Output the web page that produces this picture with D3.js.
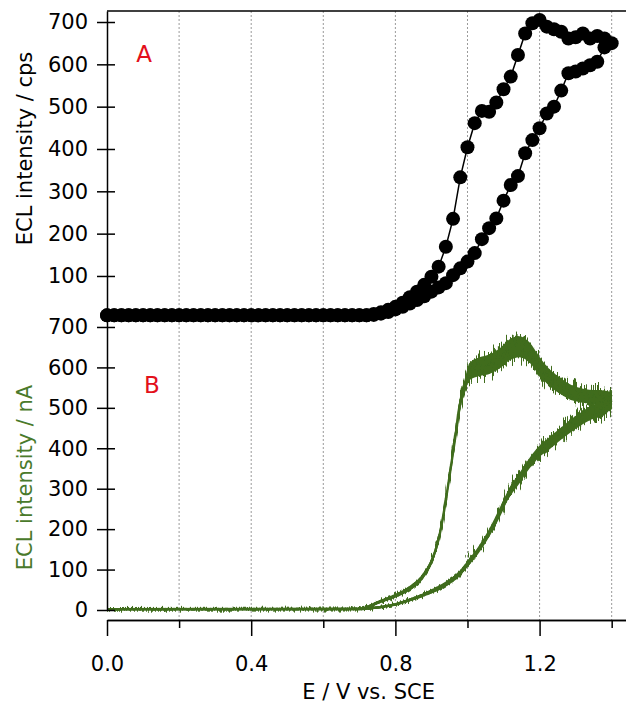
<!DOCTYPE html>
<html>
<head>
<meta charset="utf-8">
<script src="https://cdn.jsdelivr.net/npm/d3@7"></script>
<style>
  body { margin: 0; background: #fff; }
  svg { display: block; }
  text { font-family: "DejaVu Sans", "Lucida Grande", sans-serif; }
</style>
</head>
<body>
<svg id="chart" width="626" height="704"></svg>
<script>
// ---- Panel A: photon-counting ECL (cps), sampled every 20 mV ----
const scanStep = 0.02;
const scanVertex = 1.40;
// forward sweep 0.00 -> 1.40 V
const eclCpsForward = [
  7, 7, 7, 7, 7, 7, 7, 7, 7, 7,
  7, 7, 7, 7, 7, 7, 7, 7, 7, 7,
  7, 7, 7, 7, 7, 7, 7, 7, 7, 7,
  7, 7, 7, 7, 7, 7, 7,
  10, 14, 20, 27, 37, 50, 63, 79, 98,
  122, 169, 235, 333, 404, 461, 490, 488, 510, 541,
  571, 622, 673, 697, 705, 689, 683, 677, 661, 664,
  673, 661, 667, 661, 650
];
// reverse sweep 1.38 -> 0.00 V
const eclCpsReverse = [
  640, 606, 598, 590, 583, 579, 538, 500, 484, 449,
  421, 390, 336, 315, 278, 236, 213, 187, 154, 134,
  118, 102, 83, 73, 63, 52, 43, 35, 27, 21,
  15, 11, 8,
  7, 7, 7, 7, 7, 7, 7, 7, 7, 7,
  7, 7, 7, 7, 7, 7, 7, 7, 7, 7,
  7, 7, 7, 7, 7, 7, 7, 7, 7, 7,
  7, 7, 7, 7, 7, 7, 7
];

// ---- Panel B: PMT current (nA), continuous trace ----
const eclNaForwardE = [0.00, 0.70, 0.73, 0.75, 0.80, 0.84, 0.875, 0.90, 0.92, 0.935,
  0.95, 0.965, 0.978, 0.992, 1.006, 1.033, 1.061, 1.089, 1.116, 1.144,
  1.172, 1.199, 1.227, 1.255, 1.283, 1.310, 1.338, 1.366, 1.40];
const eclNaForwardI = [2, 3, 10, 18, 35, 54, 82, 120, 175, 245,
  330, 420, 505, 552, 590, 602, 608, 622, 643, 651,
  637, 604, 575, 556, 540, 532, 528, 527, 522];
// half-width of the noise band along the forward trace (nA)
const eclNaForwardNoise = [2, 2.5, 3.5, 4, 5, 6, 7, 8, 9, 10,
  11, 12, 15, 18, 21, 23, 24, 25, 26, 26,
  25, 23, 21, 20, 19, 18, 17, 17, 17];

const eclNaReverseE = [1.40, 1.384, 1.338, 1.310, 1.283, 1.255, 1.227, 1.199, 1.172, 1.144,
  1.116, 1.089, 1.061, 1.033, 1.001, 0.978, 0.941, 0.895, 0.85, 0.80,
  0.756, 0.70, 0.00];
const eclNaReverseI = [518, 503, 486, 470, 453, 433, 412, 392, 363, 326,
  290, 240, 192, 152, 115, 90, 65, 44, 28, 14,
  7, 2, 2];
const eclNaReverseNoise = [18, 18, 17, 16, 16, 15, 15, 14, 13, 13,
  12, 12, 10, 9, 8, 7, 6, 5, 4, 3.5,
  3, 2, 2];

// ---- axis ticks and labels ----
const xMajorTicks = [0.0, 0.4, 0.8, 1.2];
const xMinorTicks = [0.2, 0.6, 1.0, 1.4];
const xGridTicks = [0.2, 0.4, 0.6, 0.8, 1.0, 1.2, 1.4];
const yTicksA = [100, 200, 300, 400, 500, 600, 700];
const yTicksB = [0, 100, 200, 300, 400, 500, 600, 700];
const xTitle = "E / V vs. SCE";
const yTitleA = "ECL intensity / cps";
const yTitleB = "ECL intensity / nA";
const panelLabels = ["A", "B"];

const GREEN = "#3f6c1d";
const GREEN_TEXT = "#4a7a2b";
const RED = "#e3101b";

const svg = d3.select("#chart");

const x = d3.scaleLinear().domain([0, 1.44]).range([107, 626.1]);
const yA = d3.scaleLinear().domain([0, 726]).range([318.3, 11]);
const yB = d3.scaleLinear().domain([0, 718]).range([610, 319.7]);
const xAxisY = 620;

// dotted vertical grid through both panels
svg.append("g")
  .selectAll("line")
  .data(xGridTicks)
  .join("line")
  .attr("x1", d => x(d)).attr("x2", d => x(d))
  .attr("y1", yA.range()[1]).attr("y2", xAxisY)
  .attr("stroke", "#9a9a9a")
  .attr("stroke-width", 1)
  .attr("stroke-dasharray", "2,2");

// top frame line
svg.append("line")
  .attr("x1", x.range()[0]).attr("x2", x.range()[1])
  .attr("y1", yA.range()[1]).attr("y2", yA.range()[1])
  .attr("stroke", "#000").attr("stroke-width", 1.5);

// ---- panel B trace ----
const defs = svg.append("defs");
function jitterFilter(id, amount, seed) {
  const f = defs.append("filter").attr("id", id)
    .attr("filterUnits", "userSpaceOnUse")
    .attr("x", 0).attr("y", 280).attr("width", 626).attr("height", 360);
  f.append("feTurbulence").attr("type", "fractalNoise")
    .attr("baseFrequency", "0.8 0.03").attr("numOctaves", 3).attr("seed", seed).attr("result", "n");
  f.append("feColorMatrix").attr("in", "n").attr("type", "matrix")
    .attr("values", "0 0 0 0 0.5  0 2 0 0 -0.5  0 0 0 0 0  0 0 0 0 1").attr("result", "m");
  f.append("feDisplacementMap").attr("in", "SourceGraphic").attr("in2", "m")
    .attr("scale", amount).attr("xChannelSelector", "R").attr("yChannelSelector", "G");
}
jitterFilter("jitterHigh", 16, 3);
jitterFilter("jitterLow", 4, 7);

const splitY = yB(130);
defs.append("clipPath").attr("id", "upperB")
  .append("rect").attr("x", 0).attr("y", 300).attr("width", 626).attr("height", splitY - 300);
defs.append("clipPath").attr("id", "lowerB")
  .append("rect").attr("x", 0).attr("y", splitY).attr("width", 626).attr("height", 630 - splitY);

function branch(es, is, hw) {
  return es.map((e, i) => ({ e, v: is[i], h: hw[i] })).sort((a, b) => a.e - b.e);
}
const fwdB = branch(eclNaForwardE, eclNaForwardI, eclNaForwardNoise);
const revB = branch(eclNaReverseE, eclNaReverseI, eclNaReverseNoise);

const band = d3.area()
  .x(d => x(d.e))
  .y0(d => yB(d.v - d.h))
  .y1(d => yB(d.v + d.h))
  .curve(d3.curveMonotoneX);
const mid = d3.line()
  .x(d => x(d.e)).y(d => yB(d.v))
  .curve(d3.curveMonotoneX);

const gB = svg.append("g");
[fwdB, revB].forEach(br => {
  gB.append("path").attr("d", band(br)).attr("fill", GREEN);
  gB.append("path").attr("d", mid(br)).attr("fill", "none")
    .attr("stroke", GREEN).attr("stroke-width", 2.4);
});
// vertex join at the switching potential
gB.append("line")
  .attr("x1", x(scanVertex) - 1).attr("x2", x(scanVertex) - 1)
  .attr("y1", yB(eclNaForwardI[eclNaForwardI.length - 1] + 22))
  .attr("y2", yB(eclNaReverseI[0] - 22))
  .attr("stroke", GREEN).attr("stroke-width", 2.5);

// jagged noise on the trace, stronger where the signal is high
const gNoiseHi = svg.append("g").attr("clip-path", "url(#upperB)")
  .append("g").attr("filter", "url(#jitterHigh)");
const gNoiseLo = svg.append("g").attr("clip-path", "url(#lowerB)")
  .append("g").attr("filter", "url(#jitterLow)");
[gNoiseHi, gNoiseLo].forEach(g => {
  [fwdB, revB].forEach(br => {
    g.append("path").attr("d", band(br)).attr("fill", GREEN);
    g.append("path").attr("d", mid(br)).attr("fill", "none")
      .attr("stroke", GREEN).attr("stroke-width", 2.4);
  });
});

// ---- panel A markers ----
const ptsA = eclCpsForward.map((v, i) => ({ e: i * scanStep, v }))
  .concat(eclCpsReverse.map((v, i) => ({ e: scanVertex - (i + 1) * scanStep, v })));
svg.append("path")
  .attr("d", d3.line().x(d => x(d.e)).y(d => yA(d.v))(ptsA))
  .attr("fill", "none").attr("stroke", "#000").attr("stroke-width", 1.5);
svg.append("g").selectAll("circle")
  .data(ptsA).join("circle")
  .attr("cx", d => x(d.e)).attr("cy", d => yA(d.v))
  .attr("r", 7).attr("fill", "#000");

// ---- axes ----
function styleAxis(g) {
  g.selectAll("path, line").attr("stroke", "#000").attr("stroke-width", 1.5);
  g.selectAll("text").attr("fill", "#000").attr("font-size", 21)
    .attr("font-family", "DejaVu Sans, sans-serif");
}
const axA = svg.append("g").attr("transform", `translate(${x.range()[0]},0)`)
  .call(d3.axisLeft(yA).tickValues(yTicksA).tickSizeInner(10).tickSizeOuter(0).tickPadding(9));
axA.selectAll(".tick line").attr("x2", -10).attr("x1", 8);
styleAxis(axA);

const axB = svg.append("g").attr("transform", `translate(${x.range()[0]},0)`)
  .call(d3.axisLeft(yB).tickValues(yTicksB).tickSizeInner(10).tickSizeOuter(0).tickPadding(9));
axB.selectAll(".tick line").attr("x2", -10).attr("x1", 8);
styleAxis(axB);

const axX = svg.append("g").attr("transform", `translate(0,${xAxisY})`)
  .call(d3.axisBottom(x).tickValues(xMajorTicks).tickFormat(d3.format(".1f"))
    .tickSizeInner(16).tickSizeOuter(0).tickPadding(20));
styleAxis(axX);
const axXm = svg.append("g").attr("transform", `translate(0,${xAxisY})`)
  .call(d3.axisBottom(x).tickValues(xMinorTicks).tickFormat(() => "")
    .tickSizeInner(8).tickSizeOuter(0));
styleAxis(axXm);

// ---- titles ----
svg.append("text")
  .attr("x", (x.range()[0] + x.range()[1]) / 2 + 2).attr("y", 699)
  .attr("text-anchor", "middle").attr("font-size", 21).attr("fill", "#000")
  .text(xTitle);
svg.append("text")
  .attr("transform", "translate(32,148.5) rotate(-90)")
  .attr("text-anchor", "middle").attr("font-size", 21).attr("fill", "#000")
  .text(yTitleA);
svg.append("text")
  .attr("transform", "translate(32,477.5) rotate(-90)")
  .attr("text-anchor", "middle").attr("font-size", 21).attr("fill", GREEN_TEXT)
  .text(yTitleB);

svg.append("text").attr("x", 144).attr("y", 62).attr("text-anchor", "middle")
  .attr("font-size", 23).attr("fill", RED).text(panelLabels[0]);
svg.append("text").attr("x", 152).attr("y", 393).attr("text-anchor", "middle")
  .attr("font-size", 23).attr("fill", RED).text(panelLabels[1]);
</script>
</body>
</html>
